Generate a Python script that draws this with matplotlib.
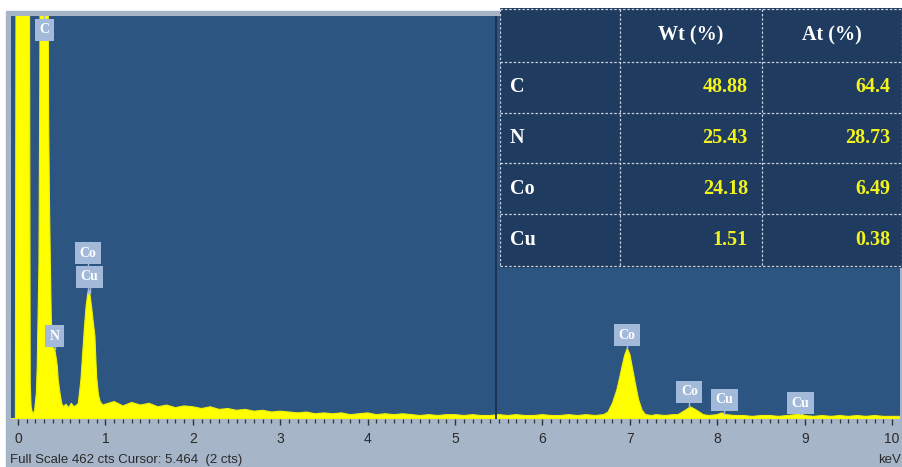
import numpy as np
import matplotlib.pyplot as plt
from matplotlib.patches import Rectangle
from matplotlib.ticker import MultipleLocator

W, H = 903, 467

# EDS spectrum (keV, cts); channels above full scale are clipped by the axes
low_kev = [-0.08, -0.03, -0.02, 0.00, 0.05, 0.10, 0.12, 0.13, 0.135, 0.14,
           0.15, 0.17, 0.19, 0.21, 0.22, 0.24, 0.25, 0.27, 0.29, 0.31,
           0.33, 0.34, 0.35, 0.36, 0.37, 0.38, 0.39, 0.40, 0.42, 0.44,
           0.45, 0.46, 0.48, 0.50, 0.52, 0.55, 0.58, 0.61, 0.64, 0.67,
           0.69, 0.72, 0.74, 0.76, 0.78, 0.80, 0.81, 0.82, 0.84, 0.86,
           0.88, 0.89, 0.90, 0.92, 0.94, 0.97]
low_cts = [0, 0, 700, 900, 900, 850, 800, 600, 300, 40,
           14, 5, 10, 30, 60, 180, 400, 1200, 1500, 1300,
           900, 700, 350, 250, 180, 120, 88, 82, 80, 68,
           60, 45, 30, 18, 14, 17, 13, 18, 14, 16,
           18, 45, 75, 105, 130, 145, 148, 145, 130, 112,
           95, 70, 48, 28, 20, 16]

# continuum 1.0 - 6.6 keV, one value per 0.1 keV
cont_kev = np.round(np.arange(1.0, 6.65, 0.1), 1)
cont_cts = [17, 20, 15, 19, 16, 18, 14, 16, 13, 15,
            14, 12, 14, 11, 12, 10, 11, 9, 10, 8,
            9, 8, 7, 8, 6, 7, 6, 7, 5, 6,
            7, 5, 6, 5, 6, 5, 4, 5, 4, 5,
            5, 4, 5, 4, 4, 5, 4, 5, 4, 4,
            5, 4, 4, 5, 4, 5, 4]

# Co K and Cu K region
high_kev = [6.70, 6.75, 6.80, 6.85, 6.88, 6.91, 6.94, 6.97, 7.00, 7.03,
            7.06, 7.10, 7.14, 7.18, 7.25, 7.30, 7.40, 7.50, 7.55, 7.60,
            7.65, 7.69, 7.73, 7.78, 7.84, 7.90, 8.00, 8.05, 8.10, 8.20,
            8.30, 8.40, 8.50, 8.60, 8.70, 8.80, 8.90, 8.95, 9.00, 9.10,
            9.20, 9.30, 9.40, 9.50, 9.60, 9.70, 9.80, 9.90, 10.00, 10.10]
high_cts = [5, 8, 18, 33, 46, 60, 73, 81, 74, 58,
            42, 22, 10, 5, 4, 5, 4, 5, 5, 8,
            11, 14, 12, 9, 5, 4, 5, 7, 5, 4,
            4, 3, 4, 4, 3, 4, 5, 6, 4, 3,
            4, 3, 4, 3, 4, 3, 4, 3, 3, 3]

energy = np.concatenate([low_kev, cont_kev, high_kev])
counts = np.concatenate([low_cts, cont_cts, high_cts])

full_scale = 462
cursor_kev = 5.464

# peak markers: name, energy, label height (cts)
peak_names = ['C', 'N', 'Co', 'Cu', 'Co', 'Co', 'Cu', 'Cu']
peak_kev = [0.30, 0.42, 0.80, 0.82, 6.97, 7.68, 8.08, 8.95]
peak_lbl = [446, 95, 190, 163, 96, 31, 22, 18]

# quantification table
elements = ['C', 'N', 'Co', 'Cu']
wt_pct = ['48.88', '25.43', '24.18', '1.51']
at_pct = ['64.4', '28.73', '6.49', '0.38']

serif = 'Liberation Serif'
sans = 'Liberation Sans'

fig = plt.figure(figsize=(W / 100, H / 100), dpi=100, facecolor='white')

# grey instrument frame
fig.patches.append(Rectangle((6 / W, 0), 1 - 6 / W, 1 - 11 / H,
                             transform=fig.transFigure, color='#a6b5c7', zorder=-5))

ax = fig.add_axes([11 / W, 1 - 419 / H, 889 / W, 403 / H])
ax.set_facecolor('#2c5581')
ax.fill_between(energy, 0, counts, color='#ffff00', lw=0.8, edgecolor='#f2f200', zorder=2)
ax.axvline(cursor_kev, color='#1a2f4d', lw=1.3, zorder=3)

ax.set_xlim(-0.08, 10.09)
ax.set_ylim(0, full_scale)
for s in ax.spines.values():
    s.set_visible(False)
ax.set_yticks([])
ax.set_xticks(range(0, 11))
ax.xaxis.set_minor_locator(MultipleLocator(0.1))
ax.tick_params(axis='x', which='major', length=4.5, width=1, color='#333333',
               labelsize=10, pad=5, labelcolor='#2a2a2a')
ax.tick_params(axis='x', which='minor', length=2.8, width=0.9, color='#333333')
for lb in ax.get_xticklabels():
    lb.set_fontfamily(sans)

box_col = '#a2b9da'
for name, x, y in zip(peak_names, peak_kev, peak_lbl):
    top = min(np.interp(x, energy, counts), full_scale)
    ax.plot([x, x], [top, y], color=box_col, lw=1, zorder=4)
    ax.text(x, y, name, ha='center', va='center', color='white', fontsize=10,
            fontweight='bold', family=serif, zorder=5,
            bbox=dict(boxstyle='square,pad=0.33', fc=box_col, ec='none'))

fig.text(10 / W, 1 - 460 / H, 'Full Scale %d cts Cursor: %.3f  (2 cts)' % (full_scale, cursor_kev),
         family=sans, fontsize=9.5, color='#2a2a2a', va='center')
fig.text(901 / W, 1 - 460 / H, 'keV', family=sans, fontsize=9.5, color='#2a2a2a',
         va='center', ha='right')

# results table in the upper right
tax = fig.add_axes([500 / W, 1 - 268 / H, 403 / W, 260 / H])
tax.set_xlim(0, 403)
tax.set_ylim(260, 0)
tax.axis('off')
tax.add_patch(Rectangle((0, 0), 403, 260, color='#1f3b5f', zorder=0))
col_edges = [0, 120, 262, 403]
row_edges = [1, 54, 105, 155, 206, 258]
dash = dict(color='#c9d1dc', lw=0.9, ls=(0, (2, 1.5)), zorder=1)
for y in row_edges:
    tax.plot([0, 403], [y, y], **dash)
for x in col_edges[:-1]:
    tax.plot([x, x], [1, 258], **dash)
tax.plot([402, 402], [1, 258], **dash)

hdr_y = (row_edges[0] + row_edges[1]) / 2
tax.text(191, hdr_y, 'Wt (%)', ha='center', va='center', color='white',
         family=serif, fontweight='bold', fontsize=14.5)
tax.text(332, hdr_y, 'At (%)', ha='center', va='center', color='white',
         family=serif, fontweight='bold', fontsize=14.5)
for i, (el, wt, at) in enumerate(zip(elements, wt_pct, at_pct)):
    y = (row_edges[i + 1] + row_edges[i + 2]) / 2
    tax.text(10, y, el, ha='left', va='center', color='white',
             family=serif, fontweight='bold', fontsize=14.5)
    tax.text(248, y, wt, ha='right', va='center', color='#f4f41c',
             family=serif, fontweight='bold', fontsize=14.5)
    tax.text(390, y, at, ha='right', va='center', color='#f4f41c',
             family=serif, fontweight='bold', fontsize=14.5)

fig.savefig('out.png', dpi=100, facecolor='white')
